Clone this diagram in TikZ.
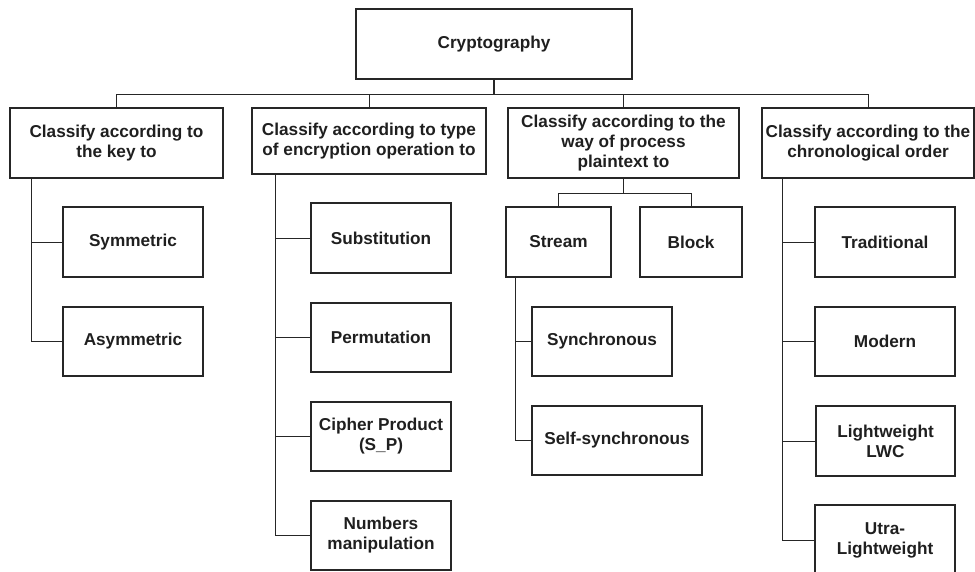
\documentclass[tikz,border=0pt]{standalone}
\usepackage{fontspec}
\setmainfont{Liberation Sans}
\begin{document}
\begin{tikzpicture}[x=1pt,y=-1pt,
  ink/.style={draw=black!85},
  box/.style={ink, rectangle, line width=1.1pt, inner sep=0pt, align=center,
    text=black!88, font=\fontsize{17.2}{20}\selectfont\bfseries},
  link/.style={ink, line width=1pt},
  trunk/.style={ink, line width=1.9pt}]
\useasboundingbox (0,0) rectangle (975,571);

% root
\node[box, minimum width=276, minimum height=70] (root) at (494,44) {Cryptography};

% first level
\node[box, minimum width=213, minimum height=70] (key) at (116.5,143) {Classify according to\\the key to};
\node[box, minimum width=234, minimum height=66] (oper) at (369,141) {Classify according to type\\of encryption operation to};
\node[box, minimum width=231, minimum height=70] (way) at (623.5,143) {Classify according to the\\way of process\\plaintext to};
\node[box, minimum width=212, minimum height=70] (chrono) at (868,143) {Classify according to the\\chronological order};

% by key
\node[box, minimum width=140, minimum height=70] (sym) at (133,242) {Symmetric};
\node[box, minimum width=140, minimum height=69] (asym) at (133,341.5) {Asymmetric};

% by operation
\node[box, minimum width=140, minimum height=70] (subst) at (381,238) {Substitution};
\node[box, minimum width=140, minimum height=69] (perm) at (381,337.5) {Permutation};
\node[box, minimum width=140, minimum height=69] (prod) at (381,436.5) {Cipher Product\\(S\_P)};
\node[box, minimum width=140, minimum height=69] (num) at (381,535.5) {Numbers\\manipulation};

% by way of processing
\node[box, minimum width=105, minimum height=70] (stream) at (558.5,242) {Stream};
\node[box, minimum width=102, minimum height=70] (block) at (691,242) {Block};
\node[box, minimum width=140, minimum height=69] (sync) at (602,341.5) {Synchronous};
\node[box, minimum width=170, minimum height=69] (selfsync) at (617,440.5) {Self-synchronous};

% by chronological order
\node[box, minimum width=140, minimum height=70] (trad) at (885,242) {Traditional};
\node[box, minimum width=140, minimum height=69] (modern) at (885,341.5) {Modern};
\node[box, minimum width=139, minimum height=70] (lwc) at (885.5,441) {Lightweight\\LWC};
\node[box, minimum width=140, minimum height=70] (ulw) at (885,540) {Utra-\\Lightweight};

% root to first level
\coordinate (bus) at (494,94);
\draw[trunk] (root.south) -- (bus);
\draw[link] (bus) -| (key.north);
\draw[link] (bus) -| (oper.north);
\draw[link] (bus) -| (way.north);
\draw[link] (bus) -| (chrono.north);

% key branch
\coordinate (keyspine) at ([xshift=22pt]key.south west);
\draw[link] (keyspine) |- (sym.west);
\draw[link] (keyspine) |- (asym.west);

% operation branch
\coordinate (operspine) at ([xshift=24pt]oper.south west);
\draw[trunk] (operspine) -- (operspine |- prod.west);
\draw[link] (operspine) |- (subst.west);
\draw[link] (operspine) |- (perm.west);
\draw[link] (operspine) |- (prod.west);
\draw[link] (operspine |- prod.west) |- (num.west);

% way branch
\coordinate (waybus) at (way.south |- 0,193);
\draw[link] (way.south) -- (waybus);
\draw[link] (waybus) -| (stream.north);
\draw[link] (waybus) -| (block.north);
\coordinate (streamspine) at ([xshift=10pt]stream.south west);
\draw[link] (streamspine) |- (sync.west);
\draw[link] (streamspine) |- (selfsync.west);

% chronological branch
\coordinate (chronospine) at ([xshift=21pt]chrono.south west);
\draw[trunk] (chronospine) -- (chronospine |- lwc.west);
\draw[link] (chronospine) |- (trad.west);
\draw[link] (chronospine) |- (modern.west);
\draw[link] (chronospine) |- (lwc.west);
\draw[link] (chronospine |- lwc.west) |- (ulw.west);
\end{tikzpicture}
\end{document}
